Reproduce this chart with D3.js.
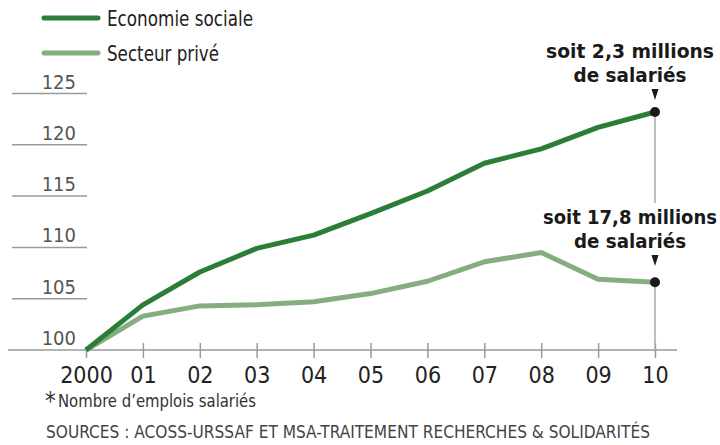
<!DOCTYPE html>
<html>
<head>
<meta charset="utf-8">
<script src="https://cdn.jsdelivr.net/npm/d3@7"></script>
<style>
  body { margin: 0; background: #fff; }
  svg { display: block; }
  text { font-family: "DejaVu Sans Condensed", "DejaVu Sans", sans-serif; font-stretch: condensed; }
</style>
</head>
<body>
<div id="chart"></div>
<script>
// Data (index base 100 in 2000)
const years = [2000, 2001, 2002, 2003, 2004, 2005, 2006, 2007, 2008, 2009, 2010];
const yearLabels = ["2000", "01", "02", "03", "04", "05", "06", "07", "08", "09", "10"];
const economieSociale = [100, 104.4, 107.6, 109.9, 111.2, 113.3, 115.5, 118.2, 119.6, 121.7, 123.2];
const secteurPrive = [100, 103.3, 104.3, 104.4, 104.7, 105.5, 106.7, 108.6, 109.5, 106.9, 106.6];
const yTicks = [100, 105, 110, 115, 120, 125];
const seriesNames = ["Economie sociale", "Secteur privé"];
const annotations = [["soit 2,3 millions", "de salariés"], ["soit 17,8 millions", "de salariés"]];

const width = 720, height = 445;
const colors = ["#2b7d38", "#85ad80"];

const svg = d3.select("#chart").append("svg")
    .attr("width", width)
    .attr("height", height);

const x = d3.scaleLinear().domain([2000, 2010]).range([86, 655]);
const y = d3.scaleLinear().domain([100, 125]).range([350, 93.5]);

// Horizontal grid stubs on the left with labels
const grid = svg.append("g");
grid.selectAll("line")
    .data(yTicks.filter(d => d !== 100))
    .join("line")
    .attr("x1", 12).attr("x2", 87)
    .attr("y1", d => y(d)).attr("y2", d => y(d))
    .attr("stroke", "#9a9a9a")
    .attr("stroke-width", 1.5);

grid.selectAll("text")
    .data(yTicks)
    .join("text")
    .attr("x", 76)
    .attr("y", d => y(d) - 5)
    .attr("text-anchor", "end")
    .attr("fill", "#555")
    .style("font-size", "20px")
    .text(d => d);

// X axis
const xAxis = d3.axisBottom(x)
    .tickValues(years)
    .tickFormat((d, i) => yearLabels[i])
    .tickSize(0);

const axisG = svg.append("g")
    .attr("transform", `translate(0,${y(100)})`)
    .call(xAxis);
axisG.select(".domain").remove();
axisG.selectAll("text")
    .attr("dy", 0)
    .attr("y", 33)
    .attr("fill", "#222")
    .style("font-size", "23px")
    .style("font-family", null);

axisG.append("line")
    .attr("x1", 8).attr("x2", 677)
    .attr("y1", 0).attr("y2", 0)
    .attr("stroke", "#9a9a9a")
    .attr("stroke-width", 1.5);

axisG.selectAll(".tick").append("line")
    .attr("y1", d => d === 2000 ? 0 : -7)
    .attr("y2", 8)
    .attr("stroke", "#9a9a9a")
    .attr("stroke-width", 1.5);

// Vertical guide at 2010 (broken behind the second annotation)
const xEnd = x(2010);
svg.append("line")
    .attr("x1", xEnd).attr("x2", xEnd)
    .attr("y1", y(economieSociale[10])).attr("y2", 203)
    .attr("stroke", "#aaa").attr("stroke-width", 1.5);
svg.append("line")
    .attr("x1", xEnd).attr("x2", xEnd)
    .attr("y1", y(secteurPrive[10])).attr("y2", y(100))
    .attr("stroke", "#aaa").attr("stroke-width", 1.5);

// Lines
const line = d3.line()
    .x((d, i) => x(years[i]))
    .y(d => y(d));

svg.append("path")
    .datum(secteurPrive)
    .attr("d", line)
    .attr("fill", "none")
    .attr("stroke", colors[1])
    .attr("stroke-width", 5)
    .attr("stroke-linejoin", "round");

svg.append("path")
    .datum(economieSociale)
    .attr("d", line)
    .attr("fill", "none")
    .attr("stroke", colors[0])
    .attr("stroke-width", 5)
    .attr("stroke-linejoin", "round");

// End dots and annotations
const endValues = [economieSociale[10], secteurPrive[10]];
const labelBase = [58, 224];
const labelWidths = [[168, 113], [174, 112]];
endValues.forEach((v, i) => {
    svg.append("circle")
        .attr("cx", xEnd).attr("cy", y(v))
        .attr("r", 5)
        .attr("fill", "#1a1a1a");

    const tipY = labelBase[i] + 42;
    svg.append("path")
        .attr("d", `M${xEnd - 3.5},${tipY - 11} L${xEnd + 3.5},${tipY - 11} L${xEnd},${tipY} Z`)
        .attr("fill", "#1a1a1a");

    annotations[i].forEach((s, j) => {
        svg.append("text")
            .attr("x", 630)
            .attr("y", labelBase[i] + j * 24)
            .attr("text-anchor", "middle")
            .attr("fill", "#1a1a1a")
            .attr("textLength", labelWidths[i][j])
            .attr("lengthAdjust", "spacingAndGlyphs")
            .style("font-size", "20px")
            .style("font-weight", "bold")
            .text(s);
    });
});

// Legend
const legend = svg.append("g");
const legendWidths = [146, 112];
seriesNames.forEach((name, i) => {
    const ly = 18 + i * 35;
    legend.append("line")
        .attr("x1", 44).attr("x2", 98)
        .attr("y1", ly).attr("y2", ly)
        .attr("stroke", colors[i])
        .attr("stroke-width", 5)
        .attr("stroke-linecap", "round");
    legend.append("text")
        .attr("x", 107).attr("y", ly + 8)
        .attr("fill", "#222")
        .attr("textLength", legendWidths[i])
        .attr("lengthAdjust", "spacingAndGlyphs")
        .style("font-size", "22px")
        .text(name);
});

// Footnotes
svg.append("text")
    .attr("x", 45).attr("y", 409)
    .attr("fill", "#333")
    .style("font-size", "24px")
    .text("*");
svg.append("text")
    .attr("x", 58).attr("y", 407)
    .attr("fill", "#333")
    .attr("textLength", 198)
    .attr("lengthAdjust", "spacingAndGlyphs")
    .style("font-size", "18px")
    .text("Nombre d’emplois salariés");

svg.append("text")
    .attr("x", 46).attr("y", 438)
    .attr("fill", "#444")
    .attr("textLength", 604)
    .attr("lengthAdjust", "spacingAndGlyphs")
    .style("font-size", "18px")
    .text("SOURCES : ACOSS-URSSAF ET MSA-TRAITEMENT RECHERCHES & SOLIDARITÉS");
</script>
</body>
</html>
